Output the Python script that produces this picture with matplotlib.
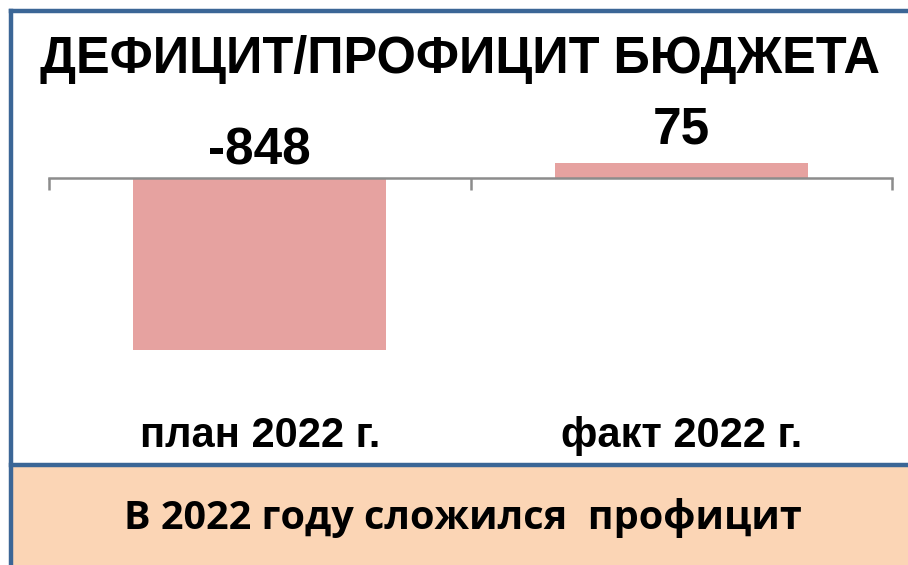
import matplotlib
matplotlib.use("Agg")
import matplotlib.pyplot as plt
from matplotlib.patches import Rectangle
from matplotlib.lines import Line2D

categories = ["план 2022 г.", "факт 2022 г."]
values = [-848, 75]
title = "ДЕФИЦИТ/ПРОФИЦИТ БЮДЖЕТА"
note = "В 2022 году сложился  профицит"

bar_color = "#E6A2A0"
frame_blue = "#3B6696"
peach = "#FBD5B5"
axis_gray = "#8C8C8C"

W, H = 908, 565
fig = plt.figure(figsize=(W / 100, H / 100), dpi=100)
fig.patch.set_facecolor("white")

def fx(px):
    return px / W

def fy(py):
    return 1 - py / H

# bottom peach band + frame lines
fig.patches.append(Rectangle((fx(12), 0), 1, fy(466), transform=fig.transFigure,
                             facecolor=peach, edgecolor="none", zorder=0))
fig.lines.append(Line2D([fx(11), 1.02], [fy(11), fy(11)], transform=fig.transFigure,
                        color=frame_blue, lw=3.2))
fig.lines.append(Line2D([fx(11), fx(11)], [-0.02, fy(11)], transform=fig.transFigure,
                        color=frame_blue, lw=3.2))
fig.lines.append(Line2D([fx(11), 1.02], [fy(465), fy(465)], transform=fig.transFigure,
                        color=frame_blue, lw=3.2))

# bar axes
ymin, ymax = -900, 100
pxu = 172 / 848
top_px = 178 - ymax * pxu
bot_px = 178 - ymin * pxu
ax = fig.add_axes([fx(49), fy(bot_px), fx(892) - fx(49), (bot_px - top_px) / H])
ax.set_facecolor("none")
x = list(range(len(categories)))
ax.bar(x, values, width=0.6, color=bar_color, zorder=1)
ax.set_xlim(-0.5, len(categories) - 0.5)
ax.set_ylim(ymin, ymax)

for s in ["top", "right", "left"]:
    ax.spines[s].set_visible(False)
ax.spines["bottom"].set_position(("data", 0))
ax.spines["bottom"].set_color(axis_gray)
ax.spines["bottom"].set_linewidth(1.8)
ax.spines["bottom"].set_zorder(3)
ax.set_yticks([])
ax.set_xticks([i - 0.5 for i in range(len(categories) + 1)])
ax.set_xticklabels([])
ax.tick_params(axis="x", length=8.6, width=1.8, color=axis_gray, direction="out")

for xi, v in zip(x, values):
    off = 2 if v < 0 else 6
    ax.annotate(f"{v}", (xi, max(v, 0)), xytext=(0, off), textcoords="offset points",
                ha="center", va="bottom", fontsize=37, fontweight="bold",
                family="Liberation Sans", color="black")

for xi, c in zip(x, categories):
    fig.text(fx(49) + (xi + 0.5) * (fx(892) - fx(49)) / len(categories), fy(436), c,
             ha="center", va="center", fontsize=30, fontweight="bold",
             family="Liberation Sans", color="black")

fig.text(fx(460), fy(60), title, ha="center", va="center", fontsize=36.4,
         fontweight="bold", family="Liberation Sans", color="black")

fig.text(fx(463), fy(518), note, ha="center", va="center", fontsize=28.5,
         fontweight="bold", family="Open Sans", color="black")

fig.savefig("out.png", dpi=100)
